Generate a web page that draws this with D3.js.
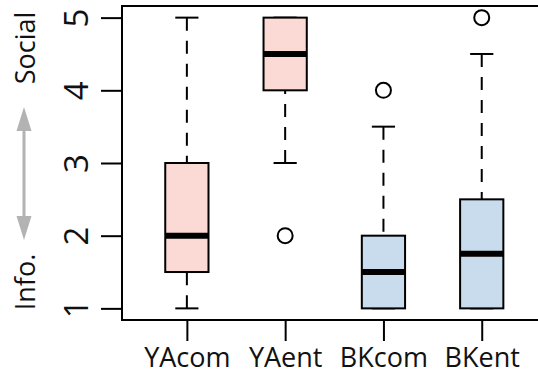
<!DOCTYPE html>
<html>
<head>
<meta charset="utf-8">
<script src="https://cdn.jsdelivr.net/npm/d3@7"></script>
<style>
  html, body { margin: 0; padding: 0; background: #fff; }
  svg { display: block; font-family: "Open Sans", "Noto Sans", sans-serif; }
</style>
</head>
<body>
<svg id="chart" width="538" height="375"></svg>
<script>
// Groups and their five-number summaries (whisker low, Q1, median, Q3, whisker high)
const categories = ["YAcom", "YAent", "BKcom", "BKent"];
const whiskerLow  = [1,   3,   1,   1];
const q1          = [1.5, 4,   1,   1];
const median      = [2,   4.5, 1.5, 1.75];
const q3          = [3,   5,   2,   2.5];
const whiskerHigh = [5,   5,   3.5, 4.5];
const outliers    = [[], [2], [4], [5]];
const fills       = ["#fbdad5", "#fbdad5", "#c9dcee", "#c9dcee"];
const yTicks      = [1, 2, 3, 4, 5];

const svg = d3.select("#chart");
const plot = { left: 122, top: 6, right: 546.6, bottom: 320 };

const x = d3.scaleLinear().domain([0.34, 4.66]).range([plot.left, plot.right]);
const y = d3.scaleLinear().domain([0.84, 5.16]).range([plot.bottom, plot.top]);

const boxHalf = 0.22;    // half box width in x units
const capHalf = 0.118;   // half staple width

const data = categories.map((c, i) => ({
  name: c, pos: i + 1,
  lo: whiskerLow[i], q1: q1[i], med: median[i], q3: q3[i], hi: whiskerHigh[i],
  out: outliers[i], fill: fills[i]
}));

const g = svg.append("g");

// whiskers: dashed, drawn from whisker end toward the box
data.forEach(d => {
  [[d.lo, d.q1], [d.hi, d.q3]].forEach(([a, b]) => {
    if (a === b) return;
    g.append("line")
      .attr("x1", x(d.pos)).attr("x2", x(d.pos))
      .attr("y1", y(a)).attr("y2", y(b))
      .attr("stroke", "#000").attr("stroke-width", 2)
      .attr("stroke-dasharray", "13,10");
  });
  // staples
  [d.lo, d.hi].forEach(v => {
    g.append("line")
      .attr("x1", x(d.pos - capHalf)).attr("x2", x(d.pos + capHalf))
      .attr("y1", y(v)).attr("y2", y(v))
      .attr("stroke", "#000").attr("stroke-width", 2);
  });
  // box
  g.append("rect")
    .attr("x", x(d.pos - boxHalf)).attr("width", x(d.pos + boxHalf) - x(d.pos - boxHalf))
    .attr("y", y(d.q3)).attr("height", y(d.q1) - y(d.q3))
    .attr("fill", d.fill).attr("stroke", "#000").attr("stroke-width", 2);
  // median
  g.append("line")
    .attr("x1", x(d.pos - boxHalf)).attr("x2", x(d.pos + boxHalf))
    .attr("y1", y(d.med)).attr("y2", y(d.med))
    .attr("stroke", "#000").attr("stroke-width", 6);
  // outliers
  d.out.forEach(v => {
    g.append("circle")
      .attr("cx", x(d.pos)).attr("cy", y(v)).attr("r", 7.5)
      .attr("fill", "none").attr("stroke", "#000").attr("stroke-width", 2);
  });
});

// plot frame
svg.append("rect")
  .attr("x", plot.left).attr("y", plot.top)
  .attr("width", plot.right - plot.left).attr("height", plot.bottom - plot.top)
  .attr("fill", "none").attr("stroke", "#000").attr("stroke-width", 2);

// y axis
const yAxis = d3.axisLeft(y).tickValues(yTicks).tickSize(21).tickPadding(0).tickFormat(d3.format("d"));
const ya = svg.append("g").attr("transform", `translate(${plot.left},0)`).call(yAxis);
ya.select(".domain").remove();
ya.selectAll(".tick line").attr("stroke", "#000").attr("stroke-width", 2);
ya.selectAll(".tick text")
  .attr("x", 0).attr("dy", null)
  .attr("transform", "translate(-34,0) rotate(-90)")
  .attr("text-anchor", "middle")
  .attr("font-size", 33).attr("fill", "#111")
  .attr("font-family", "'Open Sans', sans-serif");

// x axis
const xAxis = d3.axisBottom(x).tickValues(data.map(d => d.pos))
  .tickFormat((d, i) => categories[i]).tickSize(21).tickPadding(4);
const xa = svg.append("g").attr("transform", `translate(0,${plot.bottom})`).call(xAxis);
xa.select(".domain").remove();
xa.selectAll(".tick line").attr("stroke", "#000").attr("stroke-width", 2);
xa.selectAll(".tick text")
  .attr("y", 0).attr("dy", null)
  .attr("transform", "translate(0,46.5)")
  .attr("font-size", 27).attr("fill", "#111")
  .attr("font-family", "'Open Sans', sans-serif");

// y title: Info. <-> Social with a double-headed arrow
const titleX = 35;
svg.append("text")
  .attr("transform", `translate(${titleX},282) rotate(-90)`)
  .attr("text-anchor", "middle").attr("font-size", 27).attr("fill", "#111")
  .text("Info.");
svg.append("text")
  .attr("transform", `translate(${titleX},48) rotate(-90)`)
  .attr("text-anchor", "middle").attr("font-size", 27).attr("fill", "#111")
  .text("Social");

const ax = 24, aTop = 107, aBot = 240, headLen = 24, headHalf = 7.5;
svg.append("line")
  .attr("x1", ax).attr("x2", ax).attr("y1", aTop + headLen - 2).attr("y2", aBot - headLen + 2)
  .attr("stroke", "#b3b3b3").attr("stroke-width", 3);
svg.append("path")
  .attr("d", `M${ax},${aTop} L${ax - headHalf},${aTop + headLen} L${ax + headHalf},${aTop + headLen} Z`)
  .attr("fill", "#b3b3b3");
svg.append("path")
  .attr("d", `M${ax},${aBot} L${ax - headHalf},${aBot - headLen} L${ax + headHalf},${aBot - headLen} Z`)
  .attr("fill", "#b3b3b3");
</script>
</body>
</html>
